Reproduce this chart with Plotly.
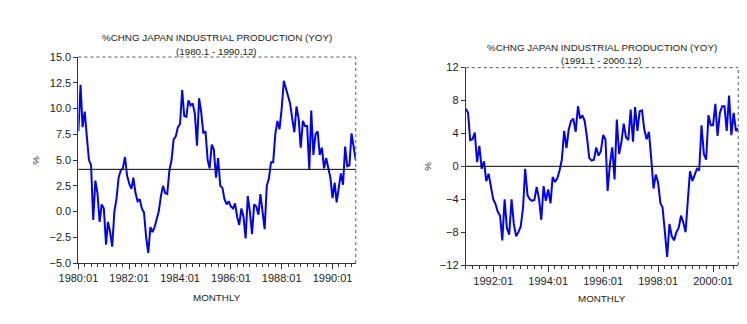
import plotly.graph_objects as go
import pandas as pd

# ---------------- data ----------------
start_a = "1980-01-01"
ipyoy_a = [
    7.8, 12.3, 8.2, 9.7, 7.3, 5.0, 4.5, -0.8, 3.0, 1.8, -1.0, 0.7,      # 1980
    0.3, -3.2, -1.0, -2.0, -3.4, 0.0, 1.2, 3.3, 4.0, 4.2, 5.3, 3.5,     # 1981
    2.7, 2.2, 3.3, 1.8, 1.0, 1.2, 0.3, -0.1, -2.5, -4.0, -1.5, -2.0,    # 1982
    -1.5, -0.8, 0.0, 1.5, 2.5, 1.8, 1.7, 4.0, 5.0, 7.0, 7.3, 8.2,       # 1983
    8.5, 11.8, 9.3, 9.2, 10.8, 10.3, 10.5, 9.5, 6.4, 11.0, 9.6, 7.6,    # 1984
    7.8, 5.0, 4.2, 6.5, 6.0, 3.3, 5.2, 2.5, 2.3, 1.2, 0.7, 1.0,         # 1985
    0.5, 0.3, 0.8, -0.5, -1.3, 0.3, -0.5, -2.6, 1.5, 0.0, -2.2, 0.7,    # 1986
    0.5, -0.3, 1.7, 0.0, -1.7, 2.5, 3.2, 4.8, 4.8, 7.5, 8.8, 8.0,       # 1987
    10.0, 12.7, 12.0, 11.0, 10.5, 9.0, 7.7, 10.2, 9.0, 6.2, 8.8, 8.3,   # 1988
    8.3, 4.1, 9.8, 5.5, 7.5, 7.8, 5.5, 6.2, 4.2, 5.2, 4.3, 3.3,         # 1989
    1.3, 2.8, 0.9, 2.5, 3.7, 2.6, 6.3, 4.4, 4.5, 7.6, 6.0, 5.0,         # 1990
]
ref_a = 4.1

start_b = "1991-01-01"
ipyoy_b = [
    7.0, 6.5, 3.2, 3.3, 4.1, 0.5, 2.5, -0.3, 0.6, -1.8, -0.9, -2.5,     # 1991
    -4.0, -4.6, -5.5, -6.0, -9.0, -4.0, -7.5, -8.3, -4.0, -7.0, -8.5, -8.0,  # 1992
    -7.3, -5.0, -0.3, -3.5, -4.0, -4.2, -4.1, -2.5, -4.0, -6.5, -2.4, -4.2,  # 1993
    -2.8, -4.5, -1.3, -1.9, -1.5, -0.5, 0.8, 4.3, 2.2, 4.5, 5.5, 5.8,   # 1994
    4.2, 7.3, 5.8, 6.2, 5.5, 3.5, 1.0, 0.7, 0.8, 2.3, 1.3, 1.8,         # 1995
    3.8, 3.3, -3.0, 0.3, 2.3, -1.6, 5.7, 1.5, 3.0, 5.2, 3.5, 3.2,       # 1996
    6.9, 3.0, 7.2, 4.3, 6.7, 6.8, 4.5, 3.3, 4.2, 1.0, -2.7, -1.0,       # 1997
    -2.0, -4.5, -5.0, -8.0, -11.0, -7.0, -8.5, -9.0, -8.0, -7.5, -6.0, -6.8,  # 1998
    -8.0, -4.0, -0.6, -1.8, -1.0, -0.3, -0.5, 5.0, 1.5, 0.8, 6.2, 5.0,  # 1999
    5.0, 7.6, 3.7, 6.5, 7.3, 7.3, 4.3, 8.6, 3.8, 6.5, 4.3, 4.6,         # 2000
]
ref_b = 0.0

title_text = "%CHNG JAPAN INDUSTRIAL PRODUCTION (YOY)"
sub_a = "(1980.1 - 1990.12)"
sub_b = "(1991.1 - 2000.12)"
yticks_a = [-5.0, -2.5, 0.0, 2.5, 5.0, 7.5, 10.0, 12.5, 15.0]
yticks_b = [-12, -8, -4, 0, 4, 8, 12]

dates_a = pd.date_range(start_a, periods=len(ipyoy_a), freq="MS")
dates_b = pd.date_range(start_b, periods=len(ipyoy_b), freq="MS")

FONT = "Liberation Sans, Arial, sans-serif"
W, H = 747, 324

def px_x(p):
    return p / W

def px_y(p):
    return 1 - p / H

fig = go.Figure()
fig.add_trace(go.Scatter(x=dates_a, y=ipyoy_a, mode="lines",
                         line=dict(color="#0000FF", width=2), xaxis="x", yaxis="y",
                         showlegend=False))
fig.add_trace(go.Scatter(x=dates_b, y=ipyoy_b, mode="lines",
                         line=dict(color="#0000FF", width=2), xaxis="x2", yaxis="y2",
                         showlegend=False))

axis_common = dict(showline=True, linecolor="#333333", linewidth=1, mirror=False,
                   ticks="outside", tickcolor="#333333",
                   showgrid=False, zeroline=False,
                   tickfont=dict(family=FONT, size=11, color="#222222"))

dom_a_x = [px_x(60), px_x(345)]
dom_a_y = [px_y(267), px_y(53)]
dom_b_x = [px_x(458), px_x(738)]
dom_b_y = [px_y(269), px_y(64)]

fig.update_layout(
    width=W, height=H, margin=dict(l=0, r=0, t=0, b=0),
    paper_bgcolor="white", plot_bgcolor="white",
    xaxis=dict(domain=dom_a_x, anchor="y", type="date",
               range=[dates_a[0], dates_a[-1]],
               tick0="1980-01-01", dtick="M24", tickformat="%Y:%m", ticklen=5,
               minor=dict(dtick="M3", tick0="1980-01-01", ticks="outside", ticklen=3,
                          tickcolor="#333333"),
               **axis_common),
    yaxis=dict(domain=dom_a_y, anchor="x", range=[-5, 15], ticklen=4,
               tickvals=yticks_a, tickformat=".1f", **axis_common),
    xaxis2=dict(domain=dom_b_x, anchor="y2", type="date",
                range=[dates_b[0], dates_b[-1]],
                tick0="1992-01-01", dtick="M24", tickformat="%Y:%m", ticklen=6,
                minor=dict(dtick="M3", tick0="1991-01-01", ticks="outside", ticklen=3,
                           tickcolor="#333333"),
                **axis_common),
    yaxis2=dict(domain=dom_b_y, anchor="x2", range=[-12, 12], ticklen=4,
                tickvals=yticks_b, tickformat="d", **axis_common),
)

# reference (mean / zero) lines
fig.add_shape(type="line", xref="x domain", yref="y", x0=0, x1=1, y0=ref_a, y1=ref_a,
              line=dict(color="black", width=1))
fig.add_shape(type="line", xref="x2 domain", yref="y2", x0=0, x1=1, y0=ref_b, y1=ref_b,
              line=dict(color="black", width=1))

# dotted top/right frame
for xr, yr in (("x domain", "y domain"), ("x2 domain", "y2 domain")):
    fig.add_shape(type="line", xref=xr, yref=yr, x0=0, x1=1, y0=1, y1=1,
                  line=dict(color="#555555", width=1, dash="dot"))
    fig.add_shape(type="line", xref=xr, yref=yr, x0=1, x1=1, y0=0, y1=1,
                  line=dict(color="#555555", width=1, dash="dot"))

tfont = dict(family=FONT, size=9.8, color="#222222")
def ann(text, xp, yp, **kw):
    fig.add_annotation(text=text, x=px_x(xp), y=px_y(yp), xref="paper", yref="paper",
                       showarrow=False, font=tfont, xanchor="center", yanchor="middle", **kw)

ann(title_text, 202, 33)
ann(sub_a, 202, 47)
ann("MONTHLY", 202, 303)
ann("%", 15, 160, textangle=-90)

ann(title_text, 598, 43)
ann(sub_b, 598, 57)
ann("MONTHLY", 598, 304)
ann("%", 419, 166, textangle=-90)

fig.write_html("out.html")
